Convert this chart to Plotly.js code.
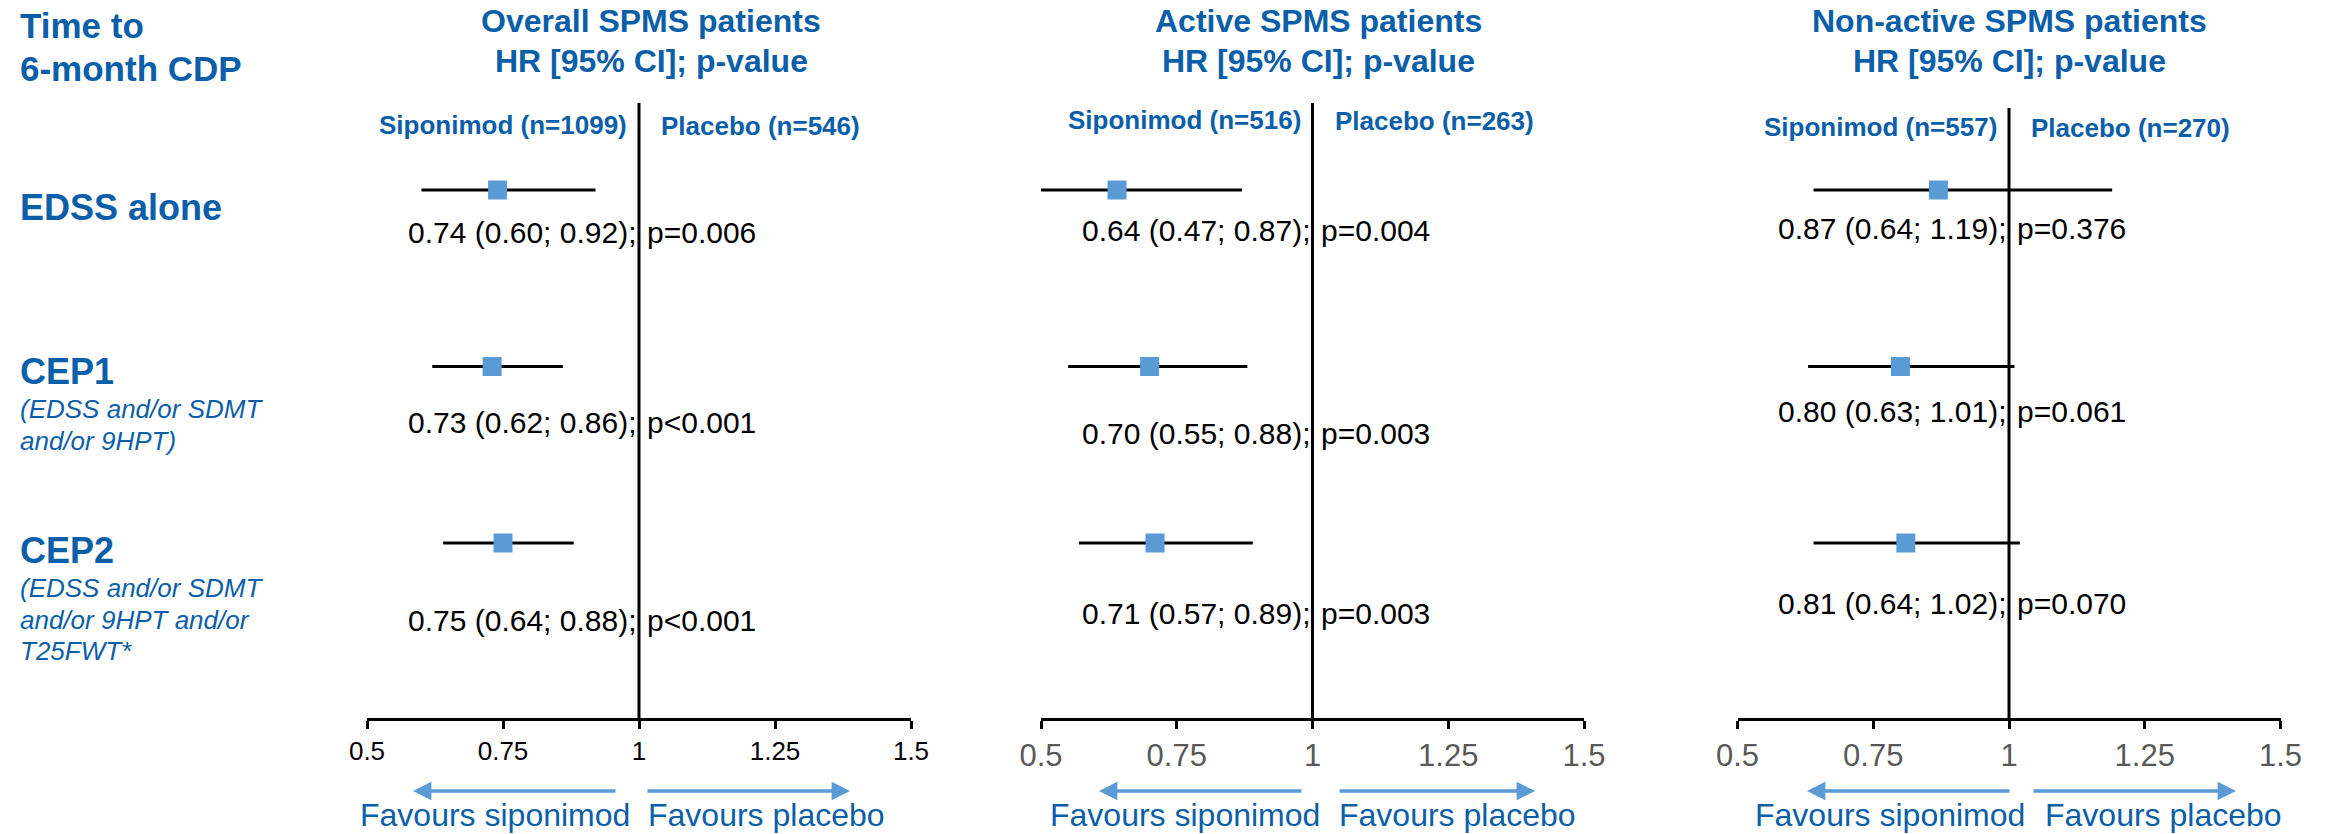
<!DOCTYPE html>
<html><head><meta charset="utf-8">
<script src="https://cdn.plot.ly/plotly-3.0.1.min.js"></script>
<style>html,body{margin:0;padding:0;background:#fff}</style>
</head><body><div id="chart" style="width:2325px;height:834px"></div>
<script>
// ---- data ----
const outcomes = ["EDSS alone", "CEP1", "CEP2"];
const outcomeDetails = [[], ["(EDSS and/or SDMT", "and/or 9HPT)"], ["(EDSS and/or SDMT", "and/or 9HPT and/or", "T25FWT*"]];
const panelTitles = ["Overall SPMS patients", "Active SPMS patients", "Non-active SPMS patients"];
const panelSubtitle = "HR [95% CI]; p-value";
const siponimodN = [1099, 516, 557];
const placeboN = [546, 263, 270];
const hrOverall = [0.74, 0.73, 0.75];
const loOverall = [0.60, 0.62, 0.64];
const hiOverall = [0.92, 0.86, 0.88];
const pOverall = ["p=0.006", "p<0.001", "p<0.001"];
const hrActive = [0.64, 0.70, 0.71];
const loActive = [0.47, 0.55, 0.57];
const hiActive = [0.87, 0.88, 0.89];
const pActive = ["p=0.004", "p=0.003", "p=0.003"];
const hrNonActive = [0.87, 0.80, 0.81];
const loNonActive = [0.64, 0.63, 0.64];
const hiNonActive = [1.19, 1.01, 1.02];
const pNonActive = ["p=0.376", "p=0.061", "p=0.070"];
const tickVals = [0.5, 0.75, 1, 1.25, 1.5];
const tickText = ["0.5", "0.75", "1", "1.25", "1.5"];
const leftTitle = ["Time to", "6-month CDP"];
const favourLeft = "Favours siponimod";
const favourRight = "Favours placebo";

// ---- layout helpers (pixel geometry) ----
const W = 2325, H = 834;
const BLUE = "#0B5EA8", LIGHT = "#5B9BD5";
const FONT = "Liberation Sans, Arial, sans-serif";
const px = v => v / W;
const py = v => 1 - v / H;
const axisY = 718;
const rowTop = 190, rowStep = 176.5;

const panels = [
  {hr: hrOverall, lo: loOverall, hi: hiOverall, p: pOverall, xa: "x", dom: [367, 911],
   textY: [232, 423, 620], lineTop: 103, nY: 125, arrows: [[617, 413], [646, 850]],
   fav: [631, 647], tickFont: {size: 26, color: "#000"}, tickStand: 0, hdrShift: 12},
  {hr: hrActive, lo: loActive, hi: hiActive, p: pActive, xa: "x2", dom: [1041, 1584],
   textY: [230, 433, 613], lineTop: 103, nY: 120, arrows: [[1303, 1099], [1338, 1535]],
   fav: [1321, 1338], tickFont: {size: 31, color: "#595959"}, tickStand: 0, hdrShift: 6},
  {hr: hrNonActive, lo: loNonActive, hi: hiNonActive, p: pNonActive, xa: "x3", dom: [1737.5, 2280.5],
   textY: [228, 411, 603], lineTop: 108, nY: 127, arrows: [[2011, 1807], [2032, 2236]],
   fav: [2026, 2044], tickFont: {size: 31, color: "#595959"}, tickStand: 0, hdrShift: 0}
];

const traces = [];
const annotations = [];
const shapes = [];
const layout = {
  width: W, height: H, margin: {l: 0, r: 0, t: 0, b: 0},
  paper_bgcolor: "#fff", plot_bgcolor: "rgba(0,0,0,0)", showlegend: false,
  font: {family: FONT},
  yaxis: {domain: [py(axisY), 1], range: [(axisY - rowTop) / rowStep, -rowTop / rowStep],
          visible: false, fixedrange: true},
  annotations: annotations, shapes: shapes
};

panels.forEach((pn, k) => {
  const rows = outcomes.map((_, i) => i);
  traces.push({
    type: "scatter", mode: "markers", xaxis: pn.xa, yaxis: "y",
    x: pn.hr, y: rows,
    marker: {symbol: "square", size: 19, color: LIGHT, line: {width: 0}},
    error_x: {type: "data", symmetric: false,
              array: pn.hi.map((h, i) => h - pn.hr[i]),
              arrayminus: pn.lo.map((l, i) => pn.hr[i] - l),
              width: 0, thickness: 3, color: "#000"},
    hoverinfo: "skip", cliponaxis: false
  });
  const axName = pn.xa === "x" ? "xaxis" : "xaxis" + pn.xa.slice(1);
  layout[axName] = {
    domain: [px(pn.dom[0]), px(pn.dom[1])], range: [0.5, 1.5], anchor: "y",
    showline: true, linewidth: 3, linecolor: "#000", mirror: false,
    ticks: "outside", ticklen: 8, tickwidth: 3, tickcolor: "#000",
    tickmode: "array", tickvals: tickVals, ticktext: tickText,
    tickfont: Object.assign({family: FONT}, pn.tickFont), ticklabelstandoff: pn.tickStand,
    showgrid: false, zeroline: false, fixedrange: true
  };
  // vertical line of no effect
  shapes.push({type: "line", xref: pn.xa, yref: "paper", x0: 1, x1: 1,
               y0: py(axisY), y1: py(pn.lineTop), line: {color: "#000", width: 3}, layer: "below"});
  // panel header
  annotations.push({xref: pn.xa, x: 1, xshift: pn.hdrShift, yref: "paper", y: py(21), text: "<b>" + panelTitles[k] + "</b>",
    showarrow: false, xanchor: "center", yanchor: "middle", font: {size: 32, color: BLUE}});
  annotations.push({xref: pn.xa, x: 1, xshift: pn.hdrShift, yref: "paper", y: py(61), text: "<b>" + panelSubtitle + "</b>",
    showarrow: false, xanchor: "center", yanchor: "middle", font: {size: 32, color: BLUE}});
  // group labels
  annotations.push({xref: pn.xa, x: 1, xshift: -10, yref: "paper", y: py(pn.nY),
    text: "<b>Siponimod (n=" + siponimodN[k] + ")</b>", showarrow: false,
    xanchor: "right", yanchor: "middle", font: {size: 26, color: BLUE}});
  annotations.push({xref: pn.xa, x: 1, xshift: 20, yref: "paper", y: py(pn.nY + 1),
    text: "<b>Placebo (n=" + placeboN[k] + ")</b>", showarrow: false,
    xanchor: "left", yanchor: "middle", font: {size: 26, color: BLUE}});
  // value texts
  rows.forEach(i => {
    annotations.push({xref: pn.xa, x: 1, xshift: 0, yref: "paper", y: py(pn.textY[i]),
      text: pn.hr[i].toFixed(2) + " (" + pn.lo[i].toFixed(2) + "; " + pn.hi[i].toFixed(2) + ");",
      showarrow: false, xanchor: "right", yanchor: "middle", font: {size: 30, color: "#000"}});
    annotations.push({xref: pn.xa, x: 1, xshift: 6, yref: "paper", y: py(pn.textY[i]),
      text: pn.p[i], showarrow: false, xanchor: "left", yanchor: "middle",
      font: {size: 30, color: "#000"}});
  });
  // favour arrows
  pn.arrows.forEach(([tail, head]) => {
    annotations.push({xref: "paper", yref: "paper", x: px(head), y: py(791), text: "",
      showarrow: true, axref: "pixel", ayref: "pixel", ax: tail - head, ay: 0,
      arrowhead: 2, arrowsize: 1.05, arrowwidth: 3.5, arrowcolor: LIGHT, standoff: 0});
  });
  annotations.push({xref: "paper", yref: "paper", x: px(pn.fav[0]), y: py(834), text: favourLeft,
    showarrow: false, xanchor: "right", yanchor: "bottom", borderpad: 0, font: {size: 32, color: BLUE}});
  annotations.push({xref: "paper", yref: "paper", x: px(pn.fav[1]), y: py(834), text: favourRight,
    showarrow: false, xanchor: "left", yanchor: "bottom", borderpad: 0, font: {size: 32, color: BLUE}});
});

// left title and row labels
annotations.push({xref: "paper", yref: "paper", x: px(18), y: py(25), text: "<b>" + leftTitle[0] + "</b>",
  showarrow: false, xanchor: "left", yanchor: "middle", font: {size: 35, color: BLUE}});
annotations.push({xref: "paper", yref: "paper", x: px(18), y: py(68), text: "<b>" + leftTitle[1] + "</b>",
  showarrow: false, xanchor: "left", yanchor: "middle", font: {size: 35, color: BLUE}});
const labelY = [207, 371, 550];
const detailY = [[], [409, 441], [588, 620, 651]];
outcomes.forEach((o, i) => {
  annotations.push({xref: "paper", yref: "paper", x: px(18), y: py(labelY[i]), text: "<b>" + o + "</b>",
    showarrow: false, xanchor: "left", yanchor: "middle", font: {size: 36, color: BLUE}});
  outcomeDetails[i].forEach((d, j) => {
    annotations.push({xref: "paper", yref: "paper", x: px(18), y: py(detailY[i][j]), text: "<i>" + d + "</i>",
      showarrow: false, xanchor: "left", yanchor: "middle", font: {size: 26, color: BLUE}});
  });
});

Plotly.newPlot("chart", traces, layout, {displayModeBar: false, staticPlot: true});
</script>
</body></html>
